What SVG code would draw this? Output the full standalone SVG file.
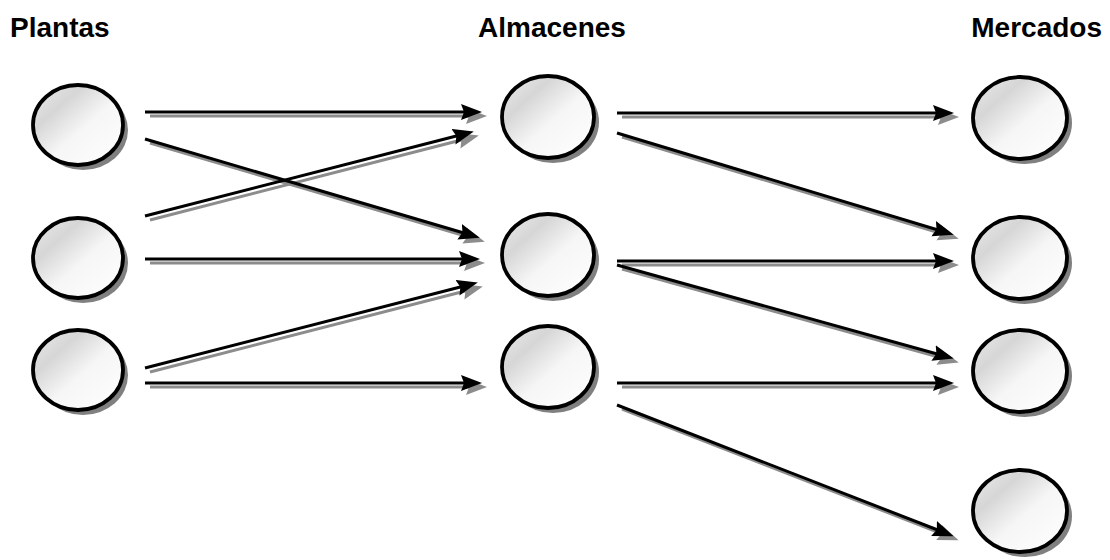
<svg xmlns="http://www.w3.org/2000/svg" width="1110" height="560" viewBox="0 0 1110 560">
  <style>
    .title { font-family: "Liberation Sans", Arial, sans-serif; font-weight: bold; font-size: 28px; fill: #000; }
    .disc { fill: url(#discFill); stroke: #000; stroke-width: 3.8; }
    .discShadow { fill: #808080; }
    .edge { stroke: #000; stroke-width: 3; fill: none; marker-end: url(#headBlack); }
    .edgeShadow { stroke: #8c8c8c; stroke-width: 3; fill: none; marker-end: url(#headGray); }
  </style>
  <defs>
    <linearGradient id="discFill" x1="0" y1="0" x2="1" y2="1">
      <stop offset="0" stop-color="#ececec"/>
      <stop offset="0.28" stop-color="#d6d6d6"/>
      <stop offset="0.55" stop-color="#f6f6f6"/>
      <stop offset="1" stop-color="#ffffff"/>
    </linearGradient>
    <marker id="headBlack" markerUnits="userSpaceOnUse" markerWidth="24" markerHeight="18" refX="15" refY="8" orient="auto">
      <path d="M0,0 L21,8 L0,16 L3,8 z" fill="#000"/>
    </marker>
    <marker id="headGray" markerUnits="userSpaceOnUse" markerWidth="24" markerHeight="18" refX="15" refY="8" orient="auto">
      <path d="M0,0 L21,8 L0,16 L3,8 z" fill="#8c8c8c"/>
    </marker>
  </defs>

  <rect width="1110" height="560" fill="#fff"/>

  <!-- column headings -->
  <text class="title" x="10" y="37">Plantas</text>
  <text class="title" x="552" y="37" text-anchor="middle">Almacenes</text>
  <text class="title" x="1102" y="37" text-anchor="end">Mercados</text>

  <!-- connectors: gray drop shadow drawn first, black line on top -->
  <g id="connectors">
    <g id="shadows" transform="translate(5,4)">
      <line class="edgeShadow" x1="145" y1="112" x2="476" y2="112"/>
      <line class="edgeShadow" x1="145" y1="139" x2="474" y2="236"/>
      <line class="edgeShadow" x1="145" y1="216" x2="468" y2="133"/>
      <line class="edgeShadow" x1="145" y1="259" x2="474" y2="259"/>
      <line class="edgeShadow" x1="145" y1="368" x2="472" y2="284"/>
      <line class="edgeShadow" x1="145" y1="383" x2="476" y2="383"/>
      <line class="edgeShadow" x1="617" y1="113" x2="948" y2="113"/>
      <line class="edgeShadow" x1="617" y1="133" x2="948" y2="233"/>
      <line class="edgeShadow" x1="617" y1="261" x2="948" y2="261"/>
      <line class="edgeShadow" x1="617" y1="265" x2="948" y2="357"/>
      <line class="edgeShadow" x1="617" y1="383" x2="948" y2="383"/>
      <line class="edgeShadow" x1="617" y1="405" x2="948" y2="534"/>
    </g>
    <g id="lines">
      <line class="edge" x1="145" y1="112" x2="476" y2="112"/>
      <line class="edge" x1="145" y1="139" x2="474" y2="236"/>
      <line class="edge" x1="145" y1="216" x2="468" y2="133"/>
      <line class="edge" x1="145" y1="259" x2="474" y2="259"/>
      <line class="edge" x1="145" y1="368" x2="472" y2="284"/>
      <line class="edge" x1="145" y1="383" x2="476" y2="383"/>
      <line class="edge" x1="617" y1="113" x2="948" y2="113"/>
      <line class="edge" x1="617" y1="133" x2="948" y2="233"/>
      <line class="edge" x1="617" y1="261" x2="948" y2="261"/>
      <line class="edge" x1="617" y1="265" x2="948" y2="357"/>
      <line class="edge" x1="617" y1="383" x2="948" y2="383"/>
      <line class="edge" x1="617" y1="405" x2="948" y2="534"/>
    </g>
  </g>

  <!-- plants -->
  <g id="planta1"><ellipse class="discShadow" cx="83" cy="130" rx="45" ry="40"/><ellipse class="disc" cx="78" cy="125" rx="45" ry="40"/></g>
  <g id="planta2"><ellipse class="discShadow" cx="83" cy="263" rx="45" ry="40"/><ellipse class="disc" cx="78" cy="258" rx="45" ry="40"/></g>
  <g id="planta3"><ellipse class="discShadow" cx="83" cy="375" rx="45" ry="40"/><ellipse class="disc" cx="78" cy="370" rx="45" ry="40"/></g>

  <!-- warehouses -->
  <g id="almacen1"><ellipse class="discShadow" cx="553" cy="122" rx="46" ry="41"/><ellipse class="disc" cx="548" cy="117" rx="46" ry="41"/></g>
  <g id="almacen2"><ellipse class="discShadow" cx="553" cy="260" rx="46" ry="41"/><ellipse class="disc" cx="548" cy="255" rx="46" ry="41"/></g>
  <g id="almacen3"><ellipse class="discShadow" cx="553" cy="372" rx="46" ry="41"/><ellipse class="disc" cx="548" cy="367" rx="46" ry="41"/></g>

  <!-- markets -->
  <g id="mercado1"><ellipse class="discShadow" cx="1025" cy="123" rx="47" ry="41"/><ellipse class="disc" cx="1020" cy="118" rx="47" ry="41"/></g>
  <g id="mercado2"><ellipse class="discShadow" cx="1025" cy="263" rx="47" ry="41"/><ellipse class="disc" cx="1020" cy="258" rx="47" ry="41"/></g>
  <g id="mercado3"><ellipse class="discShadow" cx="1025" cy="376" rx="47" ry="41"/><ellipse class="disc" cx="1020" cy="371" rx="47" ry="41"/></g>
  <g id="mercado4"><ellipse class="discShadow" cx="1025" cy="516" rx="47" ry="41"/><ellipse class="disc" cx="1020" cy="511" rx="47" ry="41"/></g>
</svg>
